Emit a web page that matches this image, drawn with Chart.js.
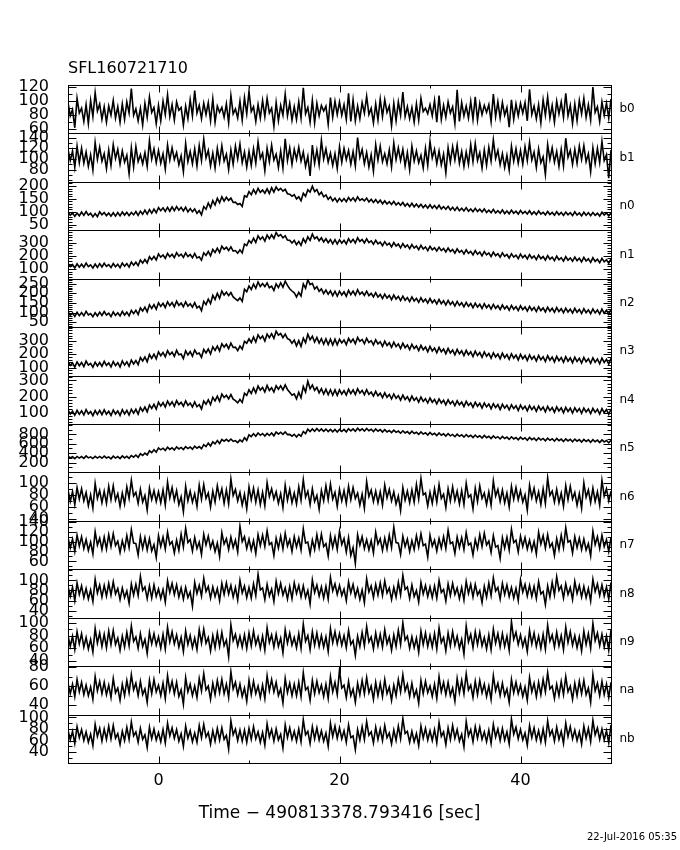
<!DOCTYPE html>
<html>
<head>
<meta charset="utf-8">
<script src="https://cdn.jsdelivr.net/npm/chart.js@4.4.1/dist/chart.umd.min.js"></script>
<style>
  html, body { margin: 0; padding: 0; background: #fff; }
</style>
</head>
<body>
<canvas id="lc" width="680" height="850"></canvas>
<script>
// time bins (s), 0.25 s apart
const times = [
  -10, -9.75, -9.5, -9.25, -9, -8.75, -8.5, -8.25, -8, -7.75, -7.5, -7.25, -7, -6.75, -6.5, -6.25, -6, -5.75, -5.5, -5.25,
  -5, -4.75, -4.5, -4.25, -4, -3.75, -3.5, -3.25, -3, -2.75, -2.5, -2.25, -2, -1.75, -1.5, -1.25, -1, -0.75, -0.5, -0.25,
  0, 0.25, 0.5, 0.75, 1, 1.25, 1.5, 1.75, 2, 2.25, 2.5, 2.75, 3, 3.25, 3.5, 3.75, 4, 4.25, 4.5, 4.75,
  5, 5.25, 5.5, 5.75, 6, 6.25, 6.5, 6.75, 7, 7.25, 7.5, 7.75, 8, 8.25, 8.5, 8.75, 9, 9.25, 9.5, 9.75,
  10, 10.25, 10.5, 10.75, 11, 11.25, 11.5, 11.75, 12, 12.25, 12.5, 12.75, 13, 13.25, 13.5, 13.75, 14, 14.25, 14.5, 14.75,
  15, 15.25, 15.5, 15.75, 16, 16.25, 16.5, 16.75, 17, 17.25, 17.5, 17.75, 18, 18.25, 18.5, 18.75, 19, 19.25, 19.5, 19.75,
  20, 20.25, 20.5, 20.75, 21, 21.25, 21.5, 21.75, 22, 22.25, 22.5, 22.75, 23, 23.25, 23.5, 23.75, 24, 24.25, 24.5, 24.75,
  25, 25.25, 25.5, 25.75, 26, 26.25, 26.5, 26.75, 27, 27.25, 27.5, 27.75, 28, 28.25, 28.5, 28.75, 29, 29.25, 29.5, 29.75,
  30, 30.25, 30.5, 30.75, 31, 31.25, 31.5, 31.75, 32, 32.25, 32.5, 32.75, 33, 33.25, 33.5, 33.75, 34, 34.25, 34.5, 34.75,
  35, 35.25, 35.5, 35.75, 36, 36.25, 36.5, 36.75, 37, 37.25, 37.5, 37.75, 38, 38.25, 38.5, 38.75, 39, 39.25, 39.5, 39.75,
  40, 40.25, 40.5, 40.75, 41, 41.25, 41.5, 41.75, 42, 42.25, 42.5, 42.75, 43, 43.25, 43.5, 43.75, 44, 44.25, 44.5, 44.75,
  45, 45.25, 45.5, 45.75, 46, 46.25, 46.5, 46.75, 47, 47.25, 47.5, 47.75, 48, 48.25, 48.5, 48.75, 49, 49.25, 49.5, 49.75,
  50
];

// counts per detector
const b0 = [
  98, 79, 88, 62, 104, 83, 90, 71, 95, 68, 101, 78, 112, 86, 96, 74, 92, 70, 93, 80,
  101, 76, 92, 70, 96, 74, 99, 83, 118, 80, 89, 72, 90, 66, 97, 77, 106, 84, 91, 68,
  94, 72, 100, 81, 109, 78, 95, 73, 99, 87, 91, 66, 93, 75, 102, 79, 115, 83, 94, 75,
  97, 81, 98, 72, 103, 70, 93, 84, 91, 77, 96, 69, 108, 82, 89, 76, 100, 73, 105, 82,
  114, 85, 92, 71, 95, 76, 101, 78, 104, 83, 90, 64, 98, 72, 94, 80, 110, 79, 97, 73,
  92, 74, 99, 76, 119, 82, 91, 70, 101, 69, 97, 79, 94, 86, 93, 67, 105, 77, 100, 81,
  99, 80, 95, 74, 111, 71, 102, 72, 93, 75, 98, 83, 107, 81, 90, 69, 96, 73, 103, 78,
  102, 84, 93, 65, 97, 72, 99, 80, 113, 78, 92, 75, 91, 70, 96, 73, 104, 85, 90, 82,
  95, 79, 101, 70, 108, 74, 94, 77, 99, 83, 92, 68, 116, 71, 98, 79, 93, 76, 100, 74,
  106, 73, 97, 81, 94, 84, 95, 71, 110, 78, 99, 76, 98, 80, 91, 63, 102, 74, 96, 79,
  97, 83, 98, 72, 117, 81, 93, 75, 95, 69, 102, 80, 106, 76, 94, 70, 100, 82, 99, 77,
  111, 79, 94, 68, 96, 72, 101, 82, 104, 77, 95, 73, 120, 84, 92, 71, 99, 80, 97, 76,
  103
];
const b1 = [
  118, 97, 115, 84, 124, 93, 120, 92, 113, 86, 108, 79, 131, 99, 122, 96, 110, 82, 117, 88,
  127, 101, 118, 90, 115, 94, 107, 72, 121, 85, 123, 95, 108, 91, 112, 86, 134, 100, 119, 93,
  116, 92, 110, 81, 126, 98, 121, 99, 112, 89, 106, 76, 129, 95, 114, 91, 119, 87, 125, 97,
  137, 102, 116, 87, 111, 83, 120, 94, 125, 96, 109, 80, 117, 90, 124, 100, 128, 93, 113, 85,
  114, 88, 119, 92, 132, 101, 111, 78, 120, 95, 126, 98, 109, 84, 115, 83, 138, 97, 121, 90,
  118, 99, 122, 96, 113, 86, 105, 68, 126, 92, 117, 89, 135, 100, 119, 94, 111, 88, 110, 82,
  123, 94, 120, 99, 116, 90, 114, 87, 140, 103, 118, 91, 112, 85, 108, 77, 127, 98, 124, 95,
  110, 91, 117, 85, 130, 99, 121, 97, 118, 87, 112, 80, 124, 96, 115, 93, 107, 83, 120, 88,
  133, 102, 118, 91, 115, 89, 109, 74, 121, 94, 123, 98, 126, 92, 114, 86, 113, 90, 127, 95,
  129, 97, 112, 83, 117, 88, 122, 96, 136, 101, 116, 89, 110, 84, 107, 79, 124, 96, 119, 92,
  116, 90, 123, 97, 131, 98, 113, 84, 119, 93, 104, 71, 127, 99, 121, 94, 114, 86, 118, 87,
  139, 103, 116, 90, 118, 92, 124, 99, 125, 95, 110, 76, 121, 91, 120, 93, 133, 97, 108, 64,
  117
];
const n0 = [
  98, 86, 96, 82, 95, 84, 99, 86, 101, 87, 94, 80, 93, 81, 100, 88, 97, 85, 95, 83,
  96, 83, 97, 84, 99, 87, 98, 85, 97, 88, 101, 86, 102, 90, 106, 91, 108, 94, 110, 96,
  116, 104, 115, 101, 117, 102, 119, 104, 120, 106, 117, 103, 118, 99, 112, 100, 111, 94, 104, 88,
  120, 110, 134, 116, 143, 126, 152, 135, 158, 141, 156, 144, 153, 136, 137, 128, 132, 121, 162, 157,
  178, 166, 186, 170, 191, 175, 184, 172, 189, 171, 193, 176, 196, 183, 191, 180, 187, 170, 168, 160,
  166, 150, 158, 143, 172, 160, 185, 176, 199, 178, 186, 166, 176, 158, 165, 148, 158, 142, 153, 138,
  152, 140, 151, 139, 155, 143, 154, 141, 158, 144, 150, 142, 153, 138, 148, 136, 147, 134, 145, 131,
  142, 130, 139, 128, 140, 126, 135, 125, 136, 122, 132, 120, 133, 119, 130, 118, 129, 116, 126, 114,
  127, 114, 124, 112, 125, 111, 120, 110, 121, 107, 117, 105, 118, 104, 114, 103, 116, 102, 111, 100,
  113, 101, 110, 99, 111, 97, 106, 96, 109, 95, 104, 94, 107, 93, 103, 92, 106, 94, 102, 91,
  105, 93, 101, 91, 104, 90, 100, 89, 103, 91, 98, 88, 101, 89, 97, 87, 100, 88, 97, 86,
  99, 88, 96, 85, 100, 87, 95, 84, 98, 86, 96, 85, 97, 86, 94, 83, 98, 87, 95, 84,
  95
];
const n1 = [
  142, 118, 134, 108, 139, 113, 136, 112, 145, 117, 131, 106, 137, 111, 140, 115, 143, 119, 133, 110,
  141, 116, 135, 110, 144, 120, 141, 114, 152, 128, 151, 125, 168, 145, 172, 146, 193, 170, 195, 168,
  214, 190, 206, 180, 218, 193, 212, 186, 224, 198, 213, 188, 222, 194, 210, 185, 218, 183, 192, 166,
  223, 203, 233, 200, 249, 226, 258, 225, 273, 250, 265, 240, 268, 236, 240, 220, 246, 222, 290, 278,
  318, 298, 334, 302, 353, 325, 345, 312, 358, 330, 360, 332, 378, 350, 362, 337, 353, 320, 318, 297,
  318, 285, 310, 280, 330, 300, 345, 318, 366, 330, 345, 315, 338, 306, 330, 300, 325, 292, 323, 290,
  323, 297, 318, 290, 330, 303, 326, 298, 338, 310, 325, 298, 330, 301, 314, 288, 318, 292, 305, 277,
  308, 282, 296, 268, 301, 275, 290, 261, 293, 266, 283, 254, 286, 259, 275, 247, 280, 252, 268, 240,
  273, 246, 262, 237, 266, 240, 256, 230, 260, 233, 248, 220, 253, 226, 241, 214, 246, 219, 234, 207,
  240, 212, 229, 200, 233, 207, 222, 194, 228, 201, 216, 189, 222, 196, 210, 183, 216, 190, 205, 178,
  213, 186, 204, 177, 209, 182, 199, 171, 205, 178, 194, 167, 201, 174, 190, 163, 197, 170, 186, 159,
  193, 166, 184, 158, 190, 163, 181, 153, 188, 160, 177, 150, 185, 157, 174, 147, 181, 154, 170, 144,
  176
];
const n2 = [
  104, 86, 98, 80, 101, 84, 100, 83, 106, 88, 95, 78, 99, 82, 102, 85, 105, 87, 97, 79,
  103, 85, 99, 82, 106, 87, 102, 83, 111, 94, 112, 90, 124, 108, 128, 104, 140, 121, 141, 117,
  151, 132, 148, 126, 156, 136, 152, 130, 159, 137, 149, 130, 156, 133, 146, 128, 151, 124, 133, 110,
  158, 141, 170, 147, 189, 168, 200, 174, 212, 191, 206, 188, 204, 181, 171, 162, 176, 158, 221, 208,
  238, 220, 248, 226, 259, 236, 251, 235, 254, 229, 237, 215, 249, 230, 255, 232, 263, 241, 224, 212,
  203, 181, 205, 186, 249, 226, 271, 245, 252, 222, 235, 210, 223, 199, 217, 195, 213, 188, 211, 186,
  211, 191, 208, 185, 215, 193, 212, 190, 219, 195, 207, 189, 211, 188, 200, 181, 203, 180, 194, 173,
  196, 175, 189, 167, 191, 170, 184, 162, 185, 164, 178, 157, 181, 160, 174, 153, 177, 156, 170, 149,
  173, 151, 166, 144, 168, 146, 161, 139, 163, 141, 156, 134, 158, 137, 151, 130, 153, 132, 147, 125,
  149, 128, 143, 121, 146, 125, 140, 118, 142, 122, 136, 115, 139, 119, 133, 112, 137, 117, 131, 110,
  135, 115, 129, 108, 132, 112, 127, 105, 130, 110, 124, 103, 128, 107, 122, 101, 126, 105, 120, 99,
  123, 103, 118, 97, 122, 101, 116, 95, 120, 99, 114, 94, 119, 98, 113, 92, 118, 96, 112, 91,
  116
];
const n3 = [
  146, 117, 136, 104, 143, 114, 139, 108, 149, 119, 132, 103, 141, 112, 138, 110, 147, 116, 135, 105,
  146, 115, 137, 105, 150, 119, 143, 110, 157, 128, 154, 122, 176, 150, 180, 144, 199, 170, 201, 166,
  219, 190, 214, 181, 227, 197, 216, 185, 230, 196, 202, 168, 227, 195, 220, 186, 232, 203, 210, 178,
  237, 210, 240, 203, 257, 230, 262, 225, 280, 255, 276, 243, 284, 252, 254, 228, 262, 238, 298, 284,
  316, 289, 330, 293, 347, 318, 338, 300, 352, 326, 356, 320, 374, 345, 357, 326, 352, 318, 310, 283,
  307, 264, 303, 260, 322, 288, 352, 310, 336, 293, 327, 285, 318, 276, 317, 274, 314, 270, 314, 272,
  314, 286, 308, 273, 320, 291, 315, 280, 327, 298, 312, 280, 320, 289, 303, 271, 310, 279, 295, 261,
  300, 266, 287, 252, 292, 258, 279, 244, 284, 250, 271, 236, 276, 243, 263, 228, 268, 235, 256, 220,
  260, 226, 248, 212, 252, 219, 241, 205, 245, 211, 233, 197, 237, 204, 226, 190, 230, 197, 219, 183,
  224, 191, 213, 177, 218, 185, 207, 171, 212, 180, 202, 166, 208, 175, 198, 162, 204, 171, 194, 158,
  200, 167, 190, 154, 196, 163, 186, 150, 192, 159, 182, 146, 189, 156, 179, 143, 185, 152, 176, 140,
  182, 149, 173, 137, 179, 146, 170, 134, 177, 144, 167, 132, 174, 141, 165, 129, 172, 139, 162, 127,
  170
];
const n4 = [
  117, 92, 110, 84, 115, 90, 112, 86, 119, 93, 107, 82, 113, 89, 114, 88, 118, 91, 109, 83,
  116, 92, 111, 83, 119, 93, 114, 85, 121, 97, 121, 91, 132, 110, 135, 105, 147, 126, 152, 122,
  165, 141, 162, 135, 172, 147, 168, 140, 175, 150, 164, 140, 173, 145, 160, 136, 167, 137, 150, 123,
  172, 152, 180, 150, 195, 173, 203, 171, 215, 194, 208, 185, 212, 184, 175, 161, 182, 164, 220, 207,
  242, 219, 253, 223, 265, 240, 256, 228, 269, 238, 255, 228, 267, 245, 266, 241, 272, 244, 226, 208,
  217, 186, 227, 193, 262, 228, 295, 248, 272, 238, 257, 223, 249, 215, 245, 211, 242, 208, 241, 207,
  241, 215, 237, 209, 245, 218, 241, 213, 249, 221, 238, 212, 243, 214, 228, 203, 232, 205, 221, 193,
  223, 196, 213, 185, 216, 189, 206, 178, 209, 182, 199, 172, 203, 176, 193, 166, 197, 170, 187, 160,
  191, 165, 182, 154, 185, 160, 177, 149, 180, 155, 171, 143, 174, 149, 166, 138, 170, 145, 161, 133,
  165, 140, 158, 129, 160, 136, 154, 124, 156, 132, 150, 120, 152, 128, 146, 117, 149, 125, 143, 114,
  147, 122, 140, 111, 144, 119, 138, 109, 141, 116, 135, 106, 139, 113, 132, 103, 136, 111, 130, 100,
  133, 108, 128, 98, 131, 106, 126, 96, 129, 104, 123, 94, 127, 102, 121, 92, 125, 100, 119, 90,
  123
];
const n5 = [
  338, 298, 325, 282, 330, 294, 328, 290, 342, 300, 322, 285, 333, 296, 330, 292, 336, 297, 321, 280,
  336, 295, 327, 286, 340, 298, 333, 290, 348, 315, 360, 310, 388, 350, 400, 362, 450, 410, 472, 420,
  510, 470, 505, 458, 525, 480, 515, 468, 533, 490, 522, 476, 540, 497, 530, 484, 550, 505, 540, 495,
  580, 538, 612, 552, 640, 598, 668, 605, 690, 655, 693, 650, 700, 650, 668, 625, 680, 640, 730, 672,
  790, 752, 815, 760, 830, 780, 818, 765, 820, 776, 828, 770, 850, 805, 845, 800, 850, 795, 800, 760,
  800, 745, 800, 760, 860, 815, 910, 860, 915, 865, 925, 868, 915, 862, 912, 858, 905, 852, 905, 850,
  905, 860, 905, 852, 920, 872, 915, 865, 930, 880, 918, 868, 925, 876, 908, 860, 915, 866, 900, 848,
  900, 852, 882, 836, 890, 842, 870, 824, 875, 830, 858, 810, 865, 818, 845, 798, 852, 806, 835, 786,
  840, 792, 822, 774, 828, 780, 810, 762, 816, 768, 798, 750, 805, 758, 790, 740, 795, 748, 780, 730,
  785, 738, 770, 720, 775, 730, 760, 710, 766, 720, 750, 702, 757, 712, 742, 692, 748, 703, 733, 684,
  740, 694, 728, 676, 733, 688, 720, 669, 726, 680, 713, 662, 719, 673, 706, 655, 712, 666, 699, 648,
  705, 660, 694, 642, 699, 655, 688, 636, 693, 650, 682, 630, 687, 643, 676, 624, 681, 638, 670, 618,
  675
];
const n6 = [
  88, 69, 85, 64, 92, 73, 90, 70, 84, 62, 80, 58, 99, 74, 87, 67, 86, 66, 94, 72,
  95, 71, 82, 61, 83, 65, 93, 74, 104, 78, 84, 66, 89, 68, 79, 55, 91, 72, 87, 69,
  85, 67, 88, 63, 101, 75, 92, 71, 87, 64, 77, 52, 94, 70, 86, 68, 82, 61, 96, 73,
  97, 74, 83, 60, 86, 68, 95, 75, 90, 66, 88, 65, 106, 79, 89, 70, 84, 63, 81, 57,
  93, 72, 91, 68, 88, 64, 84, 62, 100, 77, 90, 73, 85, 66, 82, 59, 96, 71, 89, 67,
  83, 65, 93, 71, 105, 76, 86, 64, 90, 69, 79, 56, 87, 70, 95, 72, 98, 73, 84, 61,
  89, 70, 87, 66, 94, 72, 92, 74, 83, 63, 81, 58, 102, 77, 88, 69, 86, 67, 85, 63,
  96, 75, 89, 70, 85, 65, 78, 54, 92, 71, 86, 67, 88, 68, 97, 73, 107, 80, 83, 62,
  84, 66, 90, 68, 97, 74, 81, 59, 90, 70, 93, 71, 86, 65, 87, 64, 99, 76, 80, 57,
  91, 69, 95, 74, 83, 64, 85, 63, 103, 78, 89, 69, 88, 67, 83, 60, 94, 73, 92, 72,
  87, 68, 80, 55, 96, 75, 91, 70, 85, 64, 90, 66, 108, 79, 86, 68, 89, 67, 83, 61,
  95, 72, 94, 73, 84, 63, 82, 58, 100, 76, 88, 67, 91, 69, 85, 63, 104, 78, 90, 70,
  86
];
const n7 = [
  108, 87, 105, 80, 113, 91, 110, 86, 104, 82, 99, 75, 120, 93, 107, 84, 109, 85, 114, 90,
  116, 92, 101, 78, 102, 84, 112, 88, 124, 97, 96, 73, 110, 86, 108, 83, 106, 81, 94, 68,
  112, 90, 109, 85, 119, 94, 100, 77, 103, 82, 115, 89, 127, 98, 104, 81, 108, 86, 99, 74,
  115, 93, 111, 87, 101, 80, 97, 70, 118, 95, 106, 84, 109, 88, 103, 79, 131, 100, 110, 86,
  105, 83, 102, 76, 114, 92, 113, 90, 122, 94, 98, 72, 107, 87, 111, 85, 117, 91, 104, 80,
  110, 89, 107, 83, 126, 97, 99, 75, 103, 84, 114, 88, 115, 90, 96, 71, 112, 88, 109, 84,
  121, 94, 106, 79, 108, 72, 88, 56, 114, 93, 110, 86, 104, 83, 102, 77, 119, 95, 106, 82,
  107, 85, 113, 88, 129, 98, 97, 74, 111, 90, 105, 80, 102, 84, 112, 89, 116, 92, 95, 69,
  113, 91, 103, 81, 106, 87, 110, 86, 123, 96, 99, 76, 109, 88, 108, 84, 118, 93, 97, 73,
  104, 86, 114, 90, 117, 93, 101, 78, 112, 89, 92, 66, 108, 87, 109, 83, 125, 98, 103, 79,
  111, 90, 108, 85, 103, 82, 100, 75, 119, 95, 112, 87, 114, 89, 97, 72, 106, 84, 113, 88,
  128, 99, 102, 77, 110, 88, 107, 84, 105, 83, 96, 71, 121, 94, 110, 86, 113, 90, 104, 80,
  108
];
const n8 = [
  88, 68, 86, 60, 95, 72, 89, 66, 84, 63, 81, 58, 102, 75, 91, 67, 90, 69, 94, 71,
  97, 73, 84, 62, 85, 66, 79, 55, 93, 71, 92, 70, 108, 80, 87, 64, 89, 65, 91, 68,
  83, 64, 82, 57, 99, 76, 94, 72, 91, 67, 85, 63, 86, 66, 77, 49, 96, 74, 90, 69,
  104, 78, 88, 65, 87, 68, 84, 60, 94, 72, 95, 73, 90, 67, 86, 61, 100, 75, 89, 66,
  86, 65, 93, 70, 112, 81, 85, 62, 92, 69, 83, 58, 98, 74, 94, 71, 85, 63, 88, 64,
  95, 74, 90, 67, 89, 66, 80, 53, 101, 76, 91, 69, 87, 65, 88, 63, 106, 79, 93, 72,
  90, 70, 83, 60, 97, 75, 92, 68, 84, 62, 81, 56, 103, 77, 89, 66, 92, 71, 95, 70,
  99, 75, 85, 62, 86, 67, 96, 71, 110, 82, 87, 64, 91, 68, 80, 57, 96, 73, 90, 68,
  87, 66, 89, 65, 100, 76, 82, 59, 93, 70, 94, 72, 85, 64, 86, 61, 98, 74, 92, 67,
  92, 71, 80, 56, 88, 67, 95, 70, 105, 79, 86, 63, 94, 72, 91, 68, 86, 65, 84, 60,
  101, 77, 92, 69, 90, 68, 88, 64, 97, 73, 78, 52, 89, 67, 96, 71, 107, 80, 89, 65,
  93, 72, 86, 62, 98, 74, 90, 67, 88, 66, 84, 59, 102, 78, 93, 70, 91, 69, 87, 63,
  96
];
const n9 = [
  80, 63, 79, 58, 86, 67, 83, 62, 77, 59, 74, 54, 91, 68, 84, 63, 82, 61, 87, 66,
  88, 66, 76, 57, 79, 62, 85, 64, 95, 71, 78, 60, 83, 63, 74, 52, 85, 67, 83, 65,
  78, 60, 82, 59, 93, 70, 86, 67, 81, 62, 77, 55, 87, 66, 80, 61, 76, 58, 89, 68,
  90, 68, 77, 56, 80, 61, 84, 63, 85, 64, 73, 47, 97, 72, 82, 64, 79, 62, 81, 60,
  84, 64, 87, 66, 78, 60, 79, 57, 92, 69, 81, 62, 82, 63, 76, 53, 89, 68, 84, 65,
  77, 61, 83, 60, 98, 71, 80, 58, 86, 65, 84, 63, 80, 62, 78, 55, 91, 69, 86, 67,
  83, 65, 80, 61, 88, 66, 72, 49, 79, 63, 85, 64, 94, 70, 78, 59, 84, 64, 82, 62,
  89, 67, 78, 57, 81, 63, 88, 66, 100, 73, 79, 60, 78, 61, 76, 54, 87, 66, 84, 63,
  80, 62, 83, 59, 92, 69, 77, 56, 84, 64, 86, 65, 79, 60, 74, 51, 95, 70, 82, 61,
  86, 66, 85, 64, 77, 59, 81, 58, 90, 68, 83, 62, 83, 63, 79, 57, 102, 74, 85, 66,
  81, 63, 76, 55, 88, 67, 84, 63, 79, 60, 82, 59, 96, 71, 81, 62, 85, 64, 80, 58,
  93, 69, 86, 65, 80, 61, 78, 56, 87, 66, 83, 60, 99, 72, 84, 64, 82, 62, 79, 57,
  89
];
const na = [
  63, 52, 62, 49, 67, 54, 64, 51, 61, 50, 59, 46, 70, 55, 65, 52, 64, 51, 61, 48,
  68, 53, 58, 45, 62, 50, 66, 53, 72, 56, 63, 50, 65, 51, 57, 43, 66, 52, 67, 54,
  61, 50, 63, 47, 71, 55, 65, 52, 64, 49, 56, 41, 69, 54, 62, 50, 60, 48, 68, 55,
  73, 56, 60, 46, 63, 51, 66, 53, 67, 52, 62, 48, 75, 57, 64, 51, 62, 49, 58, 44,
  66, 51, 65, 52, 60, 48, 61, 47, 71, 55, 67, 54, 64, 50, 57, 42, 68, 53, 63, 50,
  62, 50, 64, 49, 74, 56, 59, 45, 66, 52, 65, 53, 61, 49, 62, 47, 70, 54, 64, 51,
  77, 58, 61, 48, 65, 50, 57, 43, 63, 51, 66, 52, 69, 53, 60, 46, 64, 50, 63, 49,
  67, 52, 59, 45, 61, 50, 67, 54, 72, 55, 62, 49, 63, 49, 56, 42, 66, 52, 65, 53,
  60, 49, 62, 47, 70, 54, 64, 51, 64, 50, 58, 44, 68, 53, 66, 52, 73, 56, 61, 48,
  65, 51, 66, 53, 62, 49, 60, 46, 71, 55, 63, 50, 63, 50, 57, 43, 67, 53, 64, 52,
  61, 49, 59, 45, 69, 54, 63, 49, 64, 51, 67, 54, 74, 57, 60, 47, 62, 50, 65, 51,
  70, 54, 60, 46, 63, 50, 65, 52, 66, 51, 58, 43, 72, 55, 63, 50, 65, 51, 62, 48,
  64
];
const nb = [
  78, 61, 76, 55, 84, 65, 79, 60, 75, 57, 71, 51, 88, 67, 81, 59, 80, 62, 85, 63,
  86, 64, 72, 53, 76, 60, 83, 62, 92, 68, 75, 57, 81, 62, 70, 48, 83, 63, 80, 61,
  74, 58, 79, 56, 90, 68, 82, 64, 79, 59, 72, 50, 85, 64, 77, 58, 73, 57, 86, 65,
  88, 66, 74, 54, 77, 59, 81, 61, 82, 62, 69, 45, 94, 70, 80, 60, 78, 59, 78, 57,
  81, 62, 84, 63, 75, 57, 74, 52, 89, 66, 79, 59, 80, 61, 71, 47, 87, 65, 82, 62,
  76, 59, 80, 58, 96, 70, 76, 55, 84, 63, 82, 61, 77, 59, 73, 50, 90, 67, 85, 64,
  82, 63, 77, 57, 87, 65, 68, 44, 79, 61, 84, 62, 93, 69, 75, 56, 83, 62, 80, 60,
  86, 65, 73, 54, 78, 60, 85, 63, 98, 72, 76, 57, 76, 58, 72, 51, 85, 64, 81, 61,
  77, 60, 79, 56, 91, 67, 75, 53, 82, 62, 86, 64, 79, 59, 71, 49, 93, 68, 79, 58,
  84, 64, 83, 62, 75, 58, 78, 55, 88, 66, 80, 60, 81, 61, 75, 54, 97, 71, 83, 63,
  79, 61, 73, 52, 86, 65, 82, 61, 77, 58, 80, 57, 94, 69, 78, 59, 83, 62, 76, 55,
  90, 67, 84, 63, 78, 60, 75, 54, 85, 64, 81, 58, 95, 70, 82, 62, 80, 61, 77, 56,
  87
];

const panelNames = ['b0', 'b1', 'n0', 'n1', 'n2', 'n3', 'n4', 'n5', 'n6', 'n7', 'n8', 'n9', 'na', 'nb'];
const panelValues = [b0, b1, n0, n1, n2, n3, n4, n5, n6, n7, n8, n9, na, nb];
const yLimits = [
  [54, 123], [57, 148], [28, 216], [25, 395], [24, 276], [40, 405], [30, 330],
  [-10, 1020], [37, 117], [44, 142], [26, 122], [32, 108], [30, 81], [21, 105]
];
const yTicks = [
  [60, 80, 100, 120], [80, 100, 120, 140], [50, 100, 150, 200], [100, 200, 300],
  [50, 100, 150, 200, 250], [100, 200, 300], [100, 200, 300], [200, 400, 600, 800],
  [40, 60, 80, 100], [60, 80, 100, 120, 140], [40, 60, 80, 100], [40, 60, 80, 100],
  [40, 60, 80], [40, 60, 80, 100]
];
const yMinor = [10, 10, 10, 20, 10, 20, 20, 100, 10, 10, 10, 10, 10, 10];
const xLabels = [0, 20, 40];
const xMarks = [-10, 0, 10, 20, 30, 40, 50];

const FONT = '"DejaVu Sans", sans-serif';

const scales = {
  x: {
    type: 'linear',
    position: 'bottom',
    min: -10,
    max: 50,
    afterBuildTicks: s => { s.ticks = xLabels.map(v => ({ value: v })); },
    afterFit: s => { s.height = 87; },
    grid: { display: false },
    border: { display: false },
    ticks: { color: '#000', font: { family: FONT, size: 16 }, padding: 0, maxRotation: 0, autoSkip: false },
    title: {
      display: true,
      text: 'Time \u2212 490813378.793416 [sec]',
      color: '#000',
      font: { family: FONT, size: 17 },
      padding: { top: 0, bottom: 26 }
    }
  }
};

// left boxes get stacked last-first, so add the bottom panel first
panelNames.slice().reverse().forEach(name => {
  const i = panelNames.indexOf(name);
  scales[name] = {
    type: 'linear',
    position: 'left',
    stack: 'det',
    stackWeight: 1,
    min: yLimits[i][0],
    max: yLimits[i][1],
    afterBuildTicks: s => { s.ticks = yTicks[i].map(v => ({ value: v })); },
    afterFit: s => { s.width = 68; },
    grid: { display: false },
    border: { display: false },
    ticks: { color: '#000', font: { family: FONT, size: 16 }, padding: 11, autoSkip: false }
  };
});

const datasets = panelNames.map((name, i) => ({
  label: name,
  yAxisID: name,
  data: times.map((t, k) => ({ x: t, y: panelValues[i][k] })),
  borderColor: '#000',
  borderWidth: 1.6,
  pointRadius: 0,
  tension: 0,
  fill: false
}));

// panel frames, inward ticks and the texts around the plot
const framePlugin = {
  id: 'framePlugin',
  afterDatasetsDraw(chart) {
    const ctx = chart.ctx;
    const area = chart.chartArea;
    const xs = chart.scales.x;
    const left = Math.round(area.left) + 0.5;
    const right = Math.round(area.right) + 0.5;
    ctx.save();
    ctx.strokeStyle = '#000';
    ctx.fillStyle = '#000';
    ctx.lineWidth = 1;
    panelNames.forEach((name, i) => {
      const s = chart.scales[name];
      const top = Math.round(s.top) + 0.5;
      const bot = Math.round(s.bottom) + 0.5;
      ctx.strokeRect(left, top, right - left, bot - top);
      ctx.beginPath();
      const step = yMinor[i];
      for (let v = Math.ceil(s.min / step) * step; v <= s.max; v += step) {
        const y = Math.round(s.getPixelForValue(v)) + 0.5;
        const len = yTicks[i].includes(v) ? 8 : 4;
        ctx.moveTo(left, y); ctx.lineTo(left + len, y);
        ctx.moveTo(right, y); ctx.lineTo(right - len, y);
      }
      xMarks.forEach(v => {
        const x = Math.round(xs.getPixelForValue(v)) + 0.5;
        const len = xLabels.includes(v) ? 7 : 3;
        ctx.moveTo(x, top); ctx.lineTo(x, top + len);
        ctx.moveTo(x, bot); ctx.lineTo(x, bot - len);
      });
      ctx.stroke();
      ctx.font = '12px ' + FONT;
      ctx.textAlign = 'left';
      ctx.textBaseline = 'middle';
      ctx.fillText(name, right + 8, (s.top + s.bottom) / 2);
    });
    ctx.font = '16px ' + FONT;
    ctx.textAlign = 'left';
    ctx.textBaseline = 'middle';
    ctx.fillText('SFL160721710', area.left, 69);
    ctx.font = '10px ' + FONT;
    ctx.textAlign = 'right';
    ctx.fillText('22-Jul-2016 05:35', 677, 837);
    ctx.restore();
  }
};

new Chart(document.getElementById('lc'), {
  type: 'line',
  data: { datasets: datasets },
  options: {
    responsive: false,
    animation: false,
    parsing: false,
    normalized: true,
    layout: { padding: { top: 85, right: 69, left: 0, bottom: 0 } },
    plugins: { legend: { display: false }, tooltip: { enabled: false }, title: { display: false } },
    scales: scales
  },
  plugins: [framePlugin]
});
</script>
</body>
</html>
